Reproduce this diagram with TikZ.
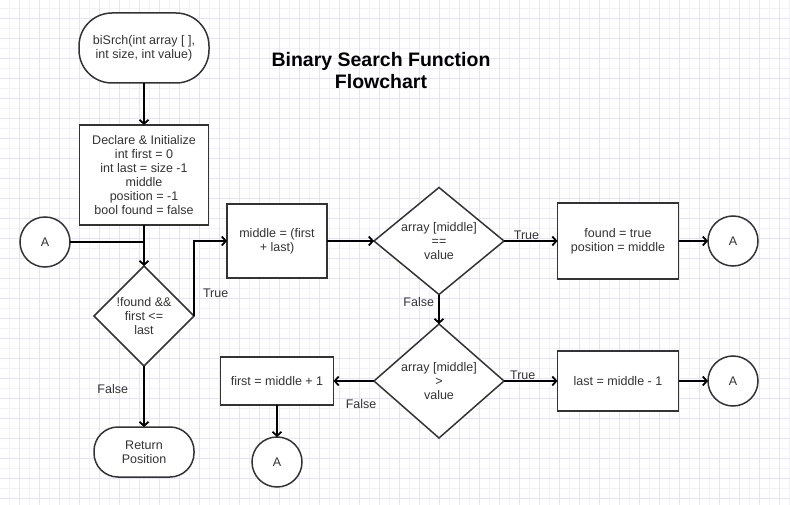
\documentclass[tikz,border=0pt]{standalone}
\usepackage{fontspec}
\setmainfont{Liberation Sans}
\usepackage{tikz}
\usetikzlibrary{arrows.meta,shapes.geometric,positioning}
\definecolor{gridminor}{HTML}{F2F2FA}
\definecolor{gridmajor}{HTML}{E4E4F4}
\definecolor{edge}{HTML}{333333}

\begin{document}
\begin{tikzpicture}[x=1pt, y=1pt, inner sep=0pt, outer sep=0pt,
->,>={Straight Barb[length=4pt,width=9pt]}, line width=1.8pt, auto,
font=\fontsize{12.5}{14}\selectfont,
box/.style={on grid, draw=edge, text=edge, fill=white, line width=1.5pt, rectangle, align=center},
term/.style={box, rounded corners=#1},
cond/.style={on grid, draw=edge, text=edge, fill=white, line width=1.5pt, diamond, aspect=1.2, align=center},
conn/.style={on grid, draw=edge, text=edge, fill=white, line width=1.5pt, circle, minimum size=50pt},
tag/.style={inner sep=0pt, text=edge}]
\useasboundingbox (0,0) rectangle (790,-505);
\begin{scope}[-, line width=1pt]
\clip (0,0) rectangle (790,-505);
\draw[gridminor, step=10pt, shift={(-0.7,1.7)}] (-20,-520) grid (800,20);
\draw[gridmajor, step=20pt, shift={(-0.7,1.7)}] (-20,-520) grid (800,20);
\end{scope}
\node[font=\fontsize{19.5}{22}\selectfont\bfseries, align=center](title) at (381,-71) {Binary Search Function\\Flowchart};
\node[term=33pt, minimum width=130pt, minimum height=70pt](start) at (144,-48) {biSrch(int array [ ],\\int size, int value)};
\node[box, minimum width=129pt, minimum height=100pt](init)[below = 127pt of start] {Declare \& Initialize\\int first = 0\\int last = size -1\\middle\\position = -1\\bool found = false};
\node[cond, aspect=1, minimum width=100pt, minimum height=100pt](loop)[below = 141pt of init] {!found \&\&\\first <=\\last};
\node[term=24pt, minimum width=100pt, minimum height=50pt](ret)[below = 136pt of loop] {Return\\Position};
\node[conn](A1)[below left = 67pt and 99pt of init] {A};
\node[box, minimum width=100pt, minimum height=74pt](mid)[above right = 75pt and 133pt of loop] {middle = (first\\+ last)};
\node[cond, minimum width=130pt, minimum height=107pt](eq)[right = 162pt of mid] {array [middle]\\==\\value};
\node[box, minimum width=121pt, minimum height=76pt](found)[right = 179pt of eq] {found = true\\position = middle};
\node[conn](A2)[right = 115pt of found] {A};
\node[cond, minimum width=130pt, minimum height=114pt](gt)[below = 140pt of eq] {array [middle]\\>\\value};
\node[box, minimum width=121pt, minimum height=60pt](last)[right = 179pt of gt] {last = middle - 1};
\node[conn](A3)[right = 115pt of last] {A};
\node[box, minimum width=113pt, minimum height=48pt](first)[left = 162pt of gt] {first = middle + 1};
\node[conn](A4)[below = 81pt of first] {A};
\coordinate (join) at (A1 -| init);
\path
(start) edge (init)
(init) edge (loop)
(A1) edge[-] (join)
(loop) edge node[tag, left=16pt, pos=0.38] {False} (ret)
(mid) edge (eq)
(eq) edge node[tag, above=1pt, pos=0.42] {True} (found)
(found) edge (A2)
(eq) edge node[tag, left=5pt, pos=0.24] {False} (gt)
(gt) edge node[tag, above=1pt, pos=0.35] {True} (last)
(last) edge (A3)
(gt) edge node[tag, below=18pt, pos=0.32] {False} (first)
(first) edge (A4)
;
\draw (loop.east) |- node[tag, right=9pt, pos=0.15] {True} (mid);
\end{tikzpicture}
\end{document}
